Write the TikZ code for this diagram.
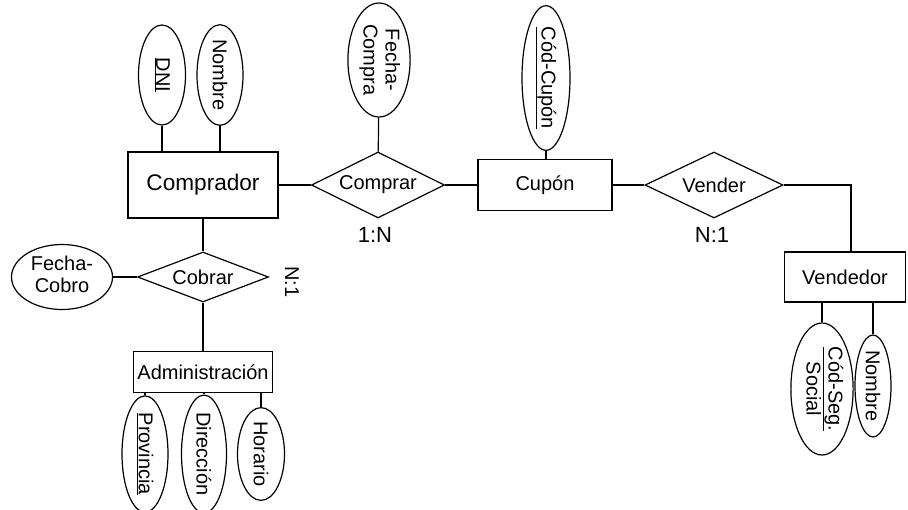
\documentclass[tikz,border=0pt]{standalone}
\usepackage{fontspec}
\setmainfont{Liberation Sans}
\usetikzlibrary{shapes.geometric}
\newcommand{\vtext}[1]{\rotatebox{-90}{#1}}
\newcommand{\vtwo}[2]{\rotatebox{-90}{\begin{tabular}{@{}c@{}}#1\\#2\end{tabular}}}
\begin{document}
\begin{tikzpicture}[x=1pt,y=-1pt,line width=1.2pt,
  font=\fontsize{20}{22}\selectfont,
  entity/.style={draw,rectangle,inner sep=0pt},
  rel/.style={draw,diamond,shape aspect=2.6,inner sep=0pt},
  attr/.style={draw,ellipse,inner sep=0pt},
  card/.style={font=\fontsize{22}{24}\selectfont}]
  \useasboundingbox (0,0) rectangle (908,509);

       \node[entity,minimum width=150pt,minimum height=66pt,font=\fontsize{22.6}{24}\selectfont] (comprador) at (203,185) {Comprador};
       \node[entity,minimum width=134pt,minimum height=51pt] (cupon) at (545,185) {Cupón};
       \node[entity,minimum width=121pt,minimum height=50pt] (vendedor) at (845,277) {Vendedor};
       \node[entity,minimum width=139pt,minimum height=41pt] (admin) at (203,372) {Administración};

       \node[rel,minimum width=133pt,minimum height=66pt] (comprar) at (378,185) {Comprar};
       \node[rel,minimum width=138pt,minimum height=66pt] (vender) at (714,185) {Vender};
       \node[rel,minimum width=131pt,minimum height=50pt] (cobrar) at (203,277) {Cobrar};

       \node[attr,minimum width=47pt,minimum height=100pt] (dni) at (162,75) {\vtext{\underline{DNI}}};
       \node[attr,minimum width=46pt,minimum height=100pt] (nombreC) at (220,75) {\vtext{Nombre}};
       \node[attr,minimum width=101pt,minimum height=65pt] (fechaCobro) at (62,277) {\begin{tabular}{@{}c@{}}Fecha-\\Cobro\end{tabular}};
       \node[attr,minimum width=62pt,minimum height=114pt] (fechaCompra) at (379,60) {\vtwo{Fecha-}{Compra}};
       \node[attr,minimum width=48pt,minimum height=131pt] (codCupon) at (546,78) {\vtext{\underline{Cód-Cupón}}};
       \node[attr,minimum width=52pt,minimum height=132pt] (codSeg) at (822,389) {\vtwo{\underline{Cód-Seg.}}{Social}};
       \node[attr,minimum width=36pt,minimum height=102pt] (nombreV) at (873,386) {\vtext{Nombre}};
       \node[attr,minimum width=46pt,minimum height=92pt] (provincia) at (145,454) {\vtext{\underline{Provincia}}};
       \node[attr,minimum width=45pt,minimum height=92pt] (direccion) at (204,454) {\vtext{Dirección}};
       \node[attr,minimum width=47pt,minimum height=92pt] (horario) at (261,454) {\vtext{Horario}};

       \node[card] (cardComprar) at (375,235) {1:N};
       \node[card] (cardVender) at (712,235) {N:1};
       \node[rotate=-90] (cardCobrar) at (292,282) {N:1};

       \draw (comprador) -- (comprar);
       \draw (comprar) -- (cupon);
       \draw (cupon) -- (vender);
       \draw (vender.east) -| ([xshift=6pt]vendedor.north);
       \draw (comprador) -- (cobrar);
       \draw (cobrar) -- (admin);
       \draw (fechaCobro) -- (cobrar);
       \draw (fechaCompra) -- (comprar);
       \draw (codCupon.south) -- (codCupon.south |- cupon.north);
       \draw (dni.south) -- (dni.south |- comprador.north);
       \draw (nombreC.south) -- (nombreC.south |- comprador.north);
       \draw (codSeg.north) -- (codSeg.north |- vendedor.south);
       \draw (nombreV.north) -- (nombreV.north |- vendedor.south);
       \draw (provincia.north) -- (provincia.north |- admin.south);
       \draw (direccion.north) -- (direccion.north |- admin.south);
       \draw (horario.north) -- (horario.north |- admin.south);
     \end{tikzpicture}
\end{document}
